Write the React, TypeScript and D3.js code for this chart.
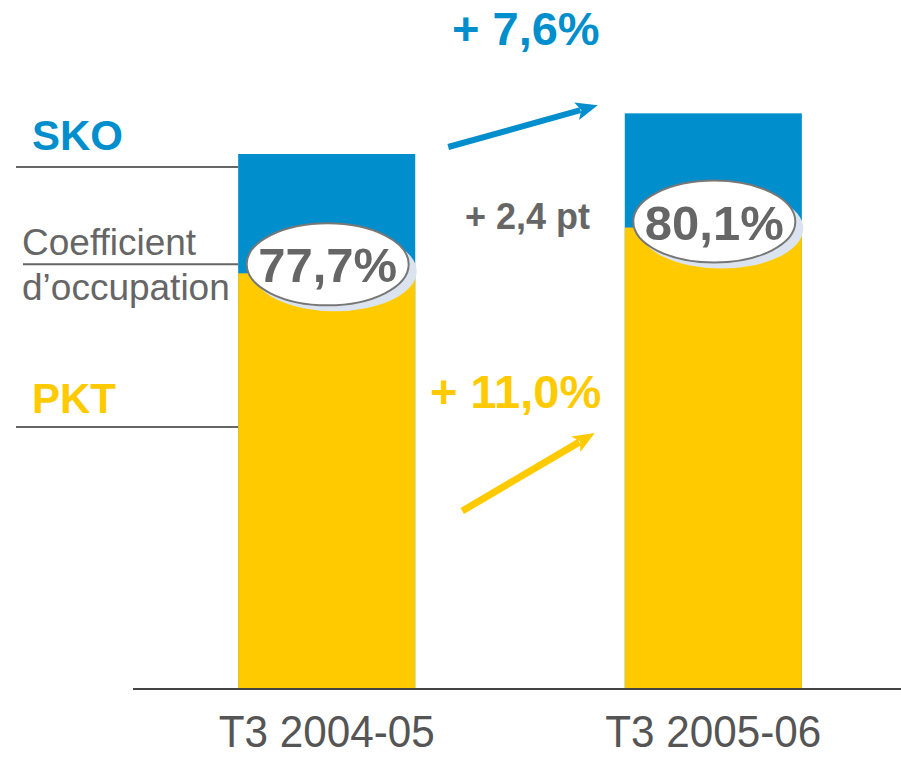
import React from "react";
import * as d3 from "d3";

// T3 comparison: seats offered (SKO) vs passengers carried (PKT), index 100 = T3 2004-05
const categories = ["T3 2004-05", "T3 2005-06"];
const sko = [100, 107.6];
const pkt = [77.7, 86.25];
const loadFactor = ["77,7%", "80,1%"];
const skoGrowth = "+ 7,6%";
const pktGrowth = "+ 11,0%";
const lfGrowth = "+ 2,4 pt";

const BLUE = "#008fcc";
const YELLOW = "#ffcb00";
const GRAY = "#666666";
const FONT = "Arial, 'Liberation Sans', sans-serif";

const width = 901, height = 757;
const baseY = 689;

const App = () => {
  const x = d3.scaleBand<string>()
    .domain(categories)
    .range([133, 907])
    .paddingInner(0.542)
    .paddingOuter(0.272);
  const y = d3.scaleLinear().domain([0, sko[0]]).range([baseY, 154]);
  const bw = x.bandwidth();

  const x0 = x(categories[0])!;
  const x1 = x(categories[1])!;

  const arrow = (ax: number, ay: number, bx: number, by: number, color: string, w: number) => {
    const ang = Math.atan2(by - ay, bx - ax);
    const hl = 22, hw = 9;
    const sx = bx - hl * Math.cos(ang), sy = by - hl * Math.sin(ang);
    const px = -Math.sin(ang), py = Math.cos(ang);
    const head = d3.path();
    head.moveTo(bx, by);
    head.lineTo(sx + px * hw, sy + py * hw);
    head.lineTo(sx + 5 * Math.cos(ang), sy + 5 * Math.sin(ang));
    head.lineTo(sx - px * hw, sy - py * hw);
    head.closePath();
    return (
      <g>
        <line x1={ax} y1={ay} x2={sx + 4 * Math.cos(ang)} y2={sy + 4 * Math.sin(ang)} stroke={color} strokeWidth={w} />
        <path d={head.toString()} fill={color} />
      </g>
    );
  };

  return (
    <svg width={width} height={height} style={{ position: "absolute", left: 0, top: 0 }} fontFamily={FONT}>
      <rect width={width} height={height} fill="#fff" />

      {/* legend lines on the left */}
      <line x1={16} x2={x0} y1={y(sko[0]) + 13} y2={y(sko[0]) + 13} stroke={GRAY} strokeWidth={2} />
      <line x1={23} x2={x0} y1={y(pkt[0]) - 9} y2={y(pkt[0]) - 9} stroke={GRAY} strokeWidth={2} />
      <line x1={16} x2={x0} y1={427} y2={427} stroke={GRAY} strokeWidth={2} />
      <text x={32} y={150} fontSize={42} fontWeight="bold" fill={BLUE}>SKO</text>
      <text x={22} y={255} fontSize={37} fill={GRAY}>Coefficient</text>
      <text x={22} y={300} fontSize={37} fill={GRAY}>d’occupation</text>
      <text x={32} y={413} fontSize={42} fontWeight="bold" fill={YELLOW}>PKT</text>

      {/* bars */}
      {categories.map((c, i) => (
        <g key={c}>
          <rect x={x(c)} y={y(sko[i])} width={bw} height={baseY - y(sko[i])} fill={BLUE} />
          <rect x={x(c)} y={y(pkt[i])} width={bw} height={baseY - y(pkt[i])} fill={YELLOW} />
        </g>
      ))}

      {/* load factor bubbles */}
      {categories.map((c, i) => {
        const cx = x(c)! + bw / 2 + 1;
        const cy = y(pkt[i]) - 6 - (i === 0 ? 3 : 0);
        return (
          <g key={"lf" + c}>
            <ellipse cx={cx + 7} cy={cy + 7} rx={82} ry={40} fill="#dbe4ee" />
            <ellipse cx={cx} cy={cy} rx={81} ry={41} fill="#fff" stroke="#777" strokeWidth={2} />
            <text x={cx} y={cy + 18} textAnchor="middle" fontSize={49} fontWeight="bold" fill={GRAY}>{loadFactor[i]}</text>
          </g>
        );
      })}

      {/* baseline */}
      <line x1={133} x2={901} y1={baseY} y2={baseY} stroke="#444" strokeWidth={2} />

      {/* category labels */}
      {categories.map((c) => (
        <g key={"t" + c} transform={`translate(${x(c)! + bw / 2},747) scale(0.96,1)`}>
          <text textAnchor="middle" fontSize={44} fill="#555">{c}</text>
        </g>
      ))}

      {/* growth annotations */}
      {arrow(x0 + bw + 33, y(sko[0]) - 7, x1 - 27, y(sko[1]) - 8, BLUE, 6)}
      <text x={452} y={45} fontSize={47} fontWeight="bold" fill={BLUE}>{skoGrowth}</text>
      <text x={465} y={229} fontSize={36} fontWeight="bold" fill={GRAY}>{lfGrowth}</text>
      <text x={430} y={408} fontSize={47} fontWeight="bold" fill={YELLOW}>{pktGrowth}</text>
      {arrow(x0 + bw + 47, 511, x1 - 30, 433, YELLOW, 7)}
    </svg>
  );
};

export default App;
